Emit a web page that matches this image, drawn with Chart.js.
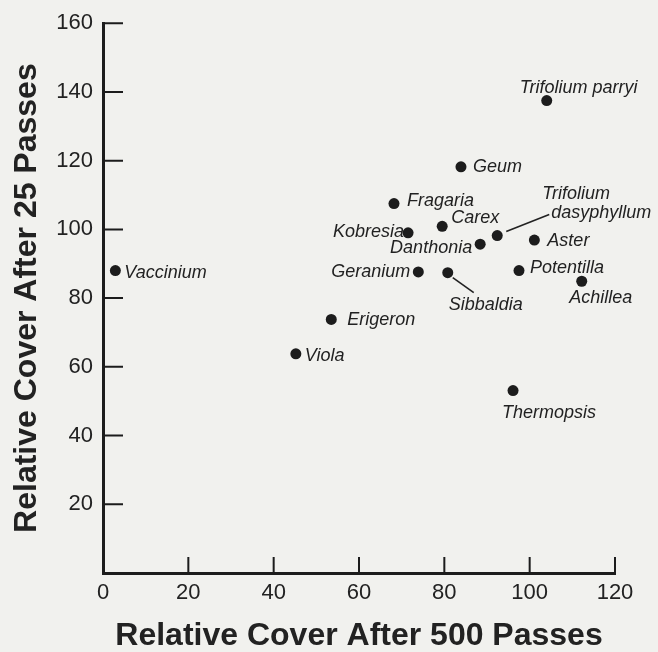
<!DOCTYPE html>
<html lang="en">
<head>
    <meta charset="UTF-8">
    <title>Relative Cover After 25 vs 500 Passes</title>
    <script src="https://cdn.jsdelivr.net/npm/chart.js"></script>
    <style>
        body { margin: 0; background-color: #f1f1ee; }
        .container { width: 658px; height: 652px; }
        canvas { display: block; }
    </style>
</head>
<body>
    <div class="container">
        <canvas id="coverChart" width="658" height="652"></canvas>
    </div>

    <script>
        // values
        const species = ['Trifolium parryi', 'Geum', 'Fragaria', 'Carex', 'Kobresia',
            'Trifolium dasyphyllum', 'Danthonia', 'Aster', 'Geranium', 'Sibbaldia',
            'Potentilla', 'Achillea', 'Erigeron', 'Viola', 'Vaccinium', 'Thermopsis'];
        const coverAfter500 = [104.0, 83.9, 68.2, 79.5, 71.5, 92.4, 88.4, 101.1, 73.9, 80.8, 97.5, 112.2, 53.5, 45.2, 2.9, 96.1];
        const coverAfter25 = [137.5, 118.2, 107.5, 100.9, 99.0, 98.2, 95.7, 96.9, 87.6, 87.4, 88.0, 84.9, 73.8, 63.8, 88.0, 53.1];
        const xTicks = [0, 20, 40, 60, 80, 100, 120];
        const yTicks = [20, 40, 60, 80, 100, 120, 140, 160];

        const fontFamily = '"Liberation Sans", Arial, Helvetica, sans-serif';
        const inkColor = '#1c1c1c';

        // where each name sits relative to its dot (pixels)
        const labelSpots = {
            'Trifolium parryi': { dx: -27, dy: -13 },
            'Geum': { dx: 12, dy: 0 },
            'Fragaria': { dx: 13, dy: -3 },
            'Carex': { dx: 9, dy: -8 },
            'Kobresia': { dx: -4, dy: -1, align: 'right' },
            'Trifolium dasyphyllum': { lines: [[45, -42], [54, -23]], leader: [9, -4, 52, -21] },
            'Danthonia': { dx: -8, dy: 4, align: 'right' },
            'Aster': { dx: 13, dy: 1 },
            'Geranium': { dx: -8, dy: 0, align: 'right' },
            'Sibbaldia': { dx: 38, dy: 32, align: 'center', leader: [5, 5, 26, 20] },
            'Potentilla': { dx: 11, dy: -3 },
            'Achillea': { dx: 19, dy: 17, align: 'center' },
            'Erigeron': { dx: 16, dy: 1 },
            'Viola': { dx: 9, dy: 2 },
            'Vaccinium': { dx: 9, dy: 2 },
            'Thermopsis': { dx: 36, dy: 22, align: 'center' }
        };

        const speciesLabels = {
            id: 'speciesLabels',
            afterDatasetsDraw(chart) {
                const ctx = chart.ctx;
                const meta = chart.getDatasetMeta(0);
                ctx.save();
                ctx.fillStyle = '#222';
                ctx.strokeStyle = '#222';
                ctx.lineWidth = 1.6;
                ctx.font = 'italic 18px ' + fontFamily;
                ctx.textBaseline = 'middle';
                species.forEach((name, i) => {
                    const pt = meta.data[i];
                    const spot = labelSpots[name];
                    if (!pt || !spot) return;
                    if (spot.lines) {
                        ctx.textAlign = 'left';
                        name.split(' ').forEach((word, j) => {
                            ctx.fillText(word, pt.x + spot.lines[j][0], pt.y + spot.lines[j][1]);
                        });
                    } else {
                        ctx.textAlign = spot.align || 'left';
                        ctx.fillText(name, pt.x + spot.dx, pt.y + spot.dy);
                    }
                    if (spot.leader) {
                        const l = spot.leader;
                        ctx.beginPath();
                        ctx.moveTo(pt.x + l[0], pt.y + l[1]);
                        ctx.lineTo(pt.x + l[2], pt.y + l[3]);
                        ctx.stroke();
                    }
                });
                ctx.restore();
            }
        };

        // tick marks point into the plot on this figure
        const inwardTicks = {
            id: 'inwardTicks',
            afterDraw(chart) {
                const ctx = chart.ctx;
                const xs = chart.scales.x, ys = chart.scales.y;
                const area = chart.chartArea;
                ctx.save();
                ctx.strokeStyle = inkColor;
                ctx.lineWidth = 2;
                ctx.beginPath();
                xTicks.filter(v => v > 0).forEach(v => {
                    const px = xs.getPixelForValue(v);
                    ctx.moveTo(px, area.bottom);
                    ctx.lineTo(px, area.bottom - 16);
                });
                yTicks.forEach(v => {
                    const py = ys.getPixelForValue(v);
                    ctx.moveTo(area.left, py);
                    ctx.lineTo(area.left + 20, py);
                });
                ctx.stroke();
                ctx.restore();
            }
        };

        const ctx = document.getElementById('coverChart').getContext('2d');
        new Chart(ctx, {
            type: 'scatter',
            data: {
                datasets: [{
                    label: 'Species',
                    data: species.map((s, i) => ({ x: coverAfter500[i], y: coverAfter25[i] })),
                    pointRadius: 5.5,
                    pointHoverRadius: 5.5,
                    backgroundColor: inkColor,
                    borderWidth: 0
                }]
            },
            options: {
                responsive: false,
                animation: false,
                layout: { padding: { top: 22, right: 43, left: 0, bottom: 0 } },
                plugins: {
                    legend: { display: false },
                    tooltip: { enabled: false }
                },
                scales: {
                    x: {
                        type: 'linear',
                        min: 0,
                        max: 120,
                        afterFit(scale) { scale.height = 79; },
                        afterBuildTicks(scale) { scale.ticks = xTicks.map(v => ({ value: v })); },
                        grid: { drawOnChartArea: false, drawTicks: false },
                        border: { display: true, color: inkColor, width: 3 },
                        ticks: {
                            autoSkip: false,
                            maxRotation: 0,
                            padding: 7,
                            color: '#222',
                            font: { family: fontFamily, size: 22 }
                        },
                        title: {
                            display: true,
                            text: 'Relative Cover After 500 Passes',
                            color: '#222',
                            padding: { top: 0, bottom: 0 },
                            font: { family: fontFamily, size: 32, weight: 'bold', lineHeight: 1 }
                        }
                    },
                    y: {
                        type: 'linear',
                        min: 0,
                        max: 160,
                        afterFit(scale) { scale.width = 103; },
                        afterBuildTicks(scale) { scale.ticks = yTicks.map(v => ({ value: v })); },
                        grid: { drawOnChartArea: false, drawTicks: false },
                        border: { display: true, color: inkColor, width: 3 },
                        ticks: {
                            padding: 10,
                            color: '#222',
                            font: { family: fontFamily, size: 22 }
                        },
                        title: {
                            display: true,
                            text: 'Relative Cover After 25 Passes',
                            color: '#222',
                            padding: { top: 11, bottom: 0 },
                            font: { family: fontFamily, size: 32, weight: 'bold', lineHeight: 1 }
                        }
                    }
                }
            },
            plugins: [speciesLabels, inwardTicks]
        });
    </script>
</body>
</html>
